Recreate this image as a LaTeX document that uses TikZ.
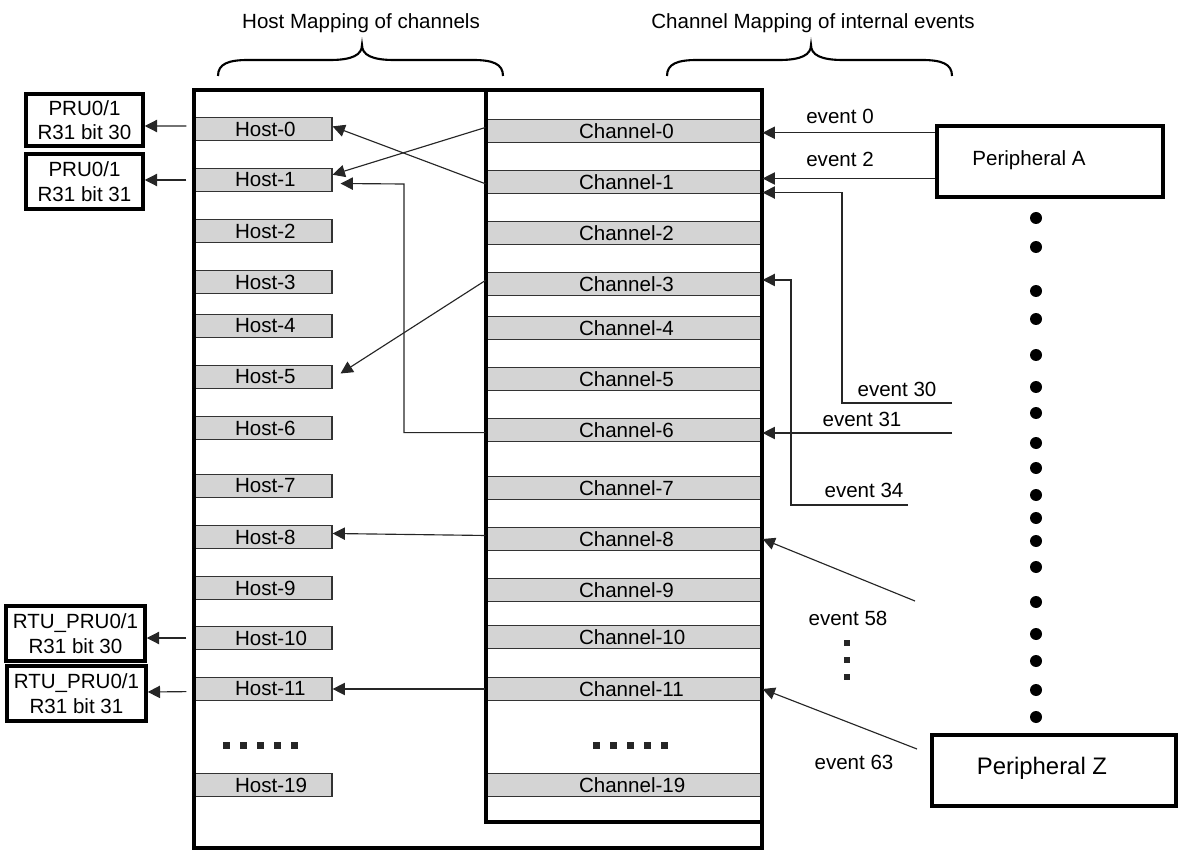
\documentclass[tikz,border=0pt]{standalone}
\usepackage{fontspec}
\setmainfont{Liberation Sans}
\usetikzlibrary{arrows.meta}

\tikzset{
	bar/.style={draw=black!80, line width=0.7pt, fill=black!17, minimum height=0.46cm, inner sep=0pt, align=left},
	hostbar/.style={bar, minimum width=2.76cm, text width=2.76cm, execute at begin node={\hspace*{0.82cm}}},
	chanbar/.style={bar, minimum width=5.52cm, text width=5.52cm, execute at begin node={\hspace*{1.86cm}}},
	outbox/.style={draw, line width=2pt, align=center, inner sep=0pt},
	mapframe/.style={line width=2pt},
	arr/.style={draw=black!85, line width=0.65pt, -{Triangle[length=7pt,width=7pt]}},
	brace/.style={line width=1.2pt},
	bigdot/.style={fill, circle, minimum size=0.24cm, inner sep=0pt},
	sqdot/.style={fill=black!85, minimum size=0.14cm, inner sep=0pt},
}

\begin{document}
\begin{tikzpicture}[x=0.02cm, y=-0.02cm, font=\fontsize{11.7}{14}\selectfont]
	\useasboundingbox (0,0) rectangle (1187,851);

	% titles and braces
	\node (thost) at (361,23) {Host Mapping of channels};
	\node (tchan) at (813,23) {Channel Mapping of internal events};
	\foreach \bx in {218,667}
		\draw[brace] (\bx,76) .. controls +(0,-12) and +(-20,0) .. ++(30,-16) -- ++(82,0)
			.. controls +(22,0) and +(0,10) .. ++(32,-15)
			.. controls +(0,10) and +(-22,0) .. ++(32,15) -- ++(79,0)
			.. controls +(20,0) and +(0,-12) .. ++(30,16);

	% host bars
	\foreach \n/\y in {0/129,1/180,2/231,3/282,4/326,5/377,6/428,7/486,8/537,9/588,10/638,11/689,19/785}
		\node[hostbar] (h\n) at (263,\y) {Host-\n};

	% channel bars
	\foreach \n/\y in {0/131,1/182,2/233,3/284,4/328,5/379,6/430,7/488,8/539,9/590,10/637,11/689,19/785}
		\node[chanbar] (c\n) at (624,\y) {Channel-\n};

	\draw[mapframe] (194,90) rectangle (762,848);
	\draw[mapframe] (486,90) rectangle (762,822);

	% dots
	\foreach \x in {226,243,260,277,294}
		\node[sqdot] at (\x,745) {};
	\foreach \x in {596,613,630,647,664}
		\node[sqdot] at (\x,745) {};

	% outputs
	\node[outbox, minimum width=2.34cm, minimum height=1.04cm] (pru0) at (84.5,120) {PRU0/1\\R31 bit 30};
	\node[outbox, minimum width=2.34cm, minimum height=1.1cm] (pru1) at (84.5,181.5) {PRU0/1\\R31 bit 31};
	\node[outbox, minimum width=2.78cm, minimum height=1.1cm] (rtu0) at (75.5,633.5) {RTU\_PRU0/1\\R31 bit 30};
	\node[outbox, minimum width=2.78cm, minimum height=1.1cm] (rtu1) at (76.5,693.5) {RTU\_PRU0/1\\R31 bit 31};

	\draw[arr] ([xshift=-4pt,yshift=1.7pt]h0.west) -- (pru0.east |- 0,126);
	\draw[arr] ([xshift=-4pt]h1.west) -- (pru1.east |- h1.west);
	\draw[arr] ([xshift=-4pt]h10.west) -- (rtu0.east |- h10.west);
	\draw[arr] ([xshift=-4pt,yshift=-1.5pt]h11.west) -- (rtu1.east |- 0,692);

	% channel to host
	\draw[arr] ([yshift=2pt]c0.west) -- ([yshift=3pt]h1.east);
	\draw[arr] ([yshift=-1pt]c1.west) -- ([yshift=1.5pt]h0.east);
	\draw[arr] ([yshift=-1.5pt]c6.west) -| (404,184) -- ([xshift=4.5pt,yshift=-2pt]h1.east);
	\draw[arr] ([yshift=2pt]c3.west) -- ([xshift=4.5pt,yshift=2pt]h5.east);
	\draw[arr] ([yshift=2pt]c8.west) -- ([yshift=2pt]h8.east);
	\draw[arr] (c11.west) -- (h11.east);

	% peripherals
	\node[outbox, minimum width=4.52cm, minimum height=1.42cm] (pa) at (1050,161.5) {};
	\node (palabel) at (1029,160) {Peripheral A};
	\node[outbox, minimum width=4.88cm, minimum height=1.42cm] (pz) at (1054,770.5) {};
	\node[font=\fontsize{13.6}{16}\selectfont] (pzlabel) at (1042,768) {Peripheral Z};
	\foreach \y [count=\i] in {218,247,291,319,355,387,413,443,468,495,518,541,567,602,634,661,690,717}
		\node[bigdot] (d\i) at (1036,\y) {};

	% events
	\coordinate (e0) at ([yshift=-1pt]c0.east);
	\coordinate (e2) at ([yshift=2pt]c1.east);
	\coordinate (e30) at (952,403);
	\coordinate (e30t) at ([yshift=-6pt]c1.east);
	\coordinate (e31) at (952,433);
	\coordinate (e34) at (908,505);
	\coordinate (e34t) at ([yshift=2.3pt]c3.east);
	\coordinate (e58) at (915,601);
	\coordinate (e63) at (917,749);

	\draw[arr] (pa.west |- e0) -- (e0);
	\draw[arr] (pa.west |- e2) -- (e2);
	\draw[arr] (e30) -- ++(-110,0) |- (e30t);
	\draw[arr] (e31) -- (e31 -| c6.east);
	\draw[arr] (e34) -- ++(-117,0) |- (e34t);
	\draw[arr] (e58) -- (c8.east);
	\draw[arr] (e63) -- (c11.east);

	\node at (840,116) {event 0};
	\node at (840,159) {event 2};
	\node at (897,389) {event 30};
	\node at (862,419) {event 31};
	\node at (864,490) {event 34};
	\node at (848,618) {event 58};
	\node at (854,762) {event 63};
	\foreach \y in {643,660,677}
		\node[sqdot, minimum size=0.12cm] at (847,\y) {};
\end{tikzpicture}
\end{document}
